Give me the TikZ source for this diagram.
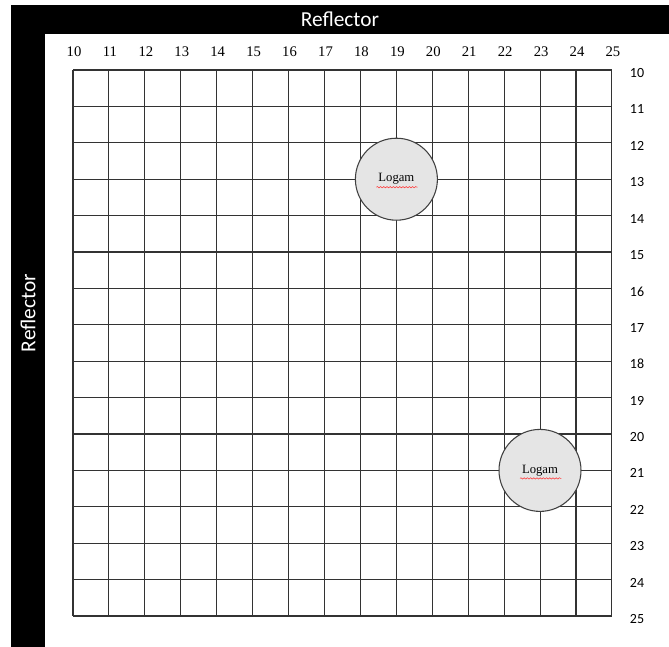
\documentclass[tikz,border=0pt]{standalone}
\usepackage{fontspec}
\setmainfont{Liberation Serif}
\setsansfont{Carlito}
\usetikzlibrary{decorations.pathmorphing}

\tikzset{
  gridline/.style={draw=black!80, line width=0.8pt},
  logam/.style={circle, draw=black!75, fill=black!10, line width=0.8pt, minimum size=61.5pt, inner sep=0pt, font=\fontsize{9.5}{11}\selectfont},
  squiggle/.style={draw=red!80, line width=0.4pt, decorate, decoration={snake, amplitude=0.5pt, segment length=2.4pt}},
  reflector/.style={text=white, font=\sffamily\fontsize{16}{18}\selectfont},
}

\begin{document}
\begin{tikzpicture}[x=0.75pt, y=-0.75pt]
    \useasboundingbox (0,0) rectangle (669,647);

    % Reflector bars
    \fill[black] (11,5) rectangle (669,34);
    \fill[black] (11,5) rectangle (45,647);
    \node[reflector] (reflTop) at (340,19) {Reflector};
    \node[reflector, rotate=90] (reflLeft) at (28,313) {Reflector};

    % Grid lines
    \foreach \i in {0,...,15} {
        \draw[gridline] (73+35.93*\i,70) -- (73+35.93*\i,616);
        \draw[gridline] (73,70+36.4*\i) -- (612,70+36.4*\i);
    }

    % Column and row labels
    \foreach \i in {0,...,15} {
        \pgfmathtruncatemacro\lbl{10+\i}
        \node[font=\fontsize{11}{13}\selectfont] (col\lbl) at (74+35.93*\i,52) {\lbl};
        \node[font=\sffamily\fontsize{10.5}{12}\selectfont] (row\lbl) at (637,73+36.4*\i) {\lbl};
    }

    % Logam
    \node[logam] (logamA) at (396.4,179.2) {Logam};
    \node[logam] (logamB) at (540,470.4) {Logam};
    \foreach \n in {logamA, logamB} {
        \draw[squiggle] ([xshift=-15pt,yshift=-6pt]\n.center) -- ([xshift=16pt,yshift=-6pt]\n.center);
    }
\end{tikzpicture}
\end{document}
